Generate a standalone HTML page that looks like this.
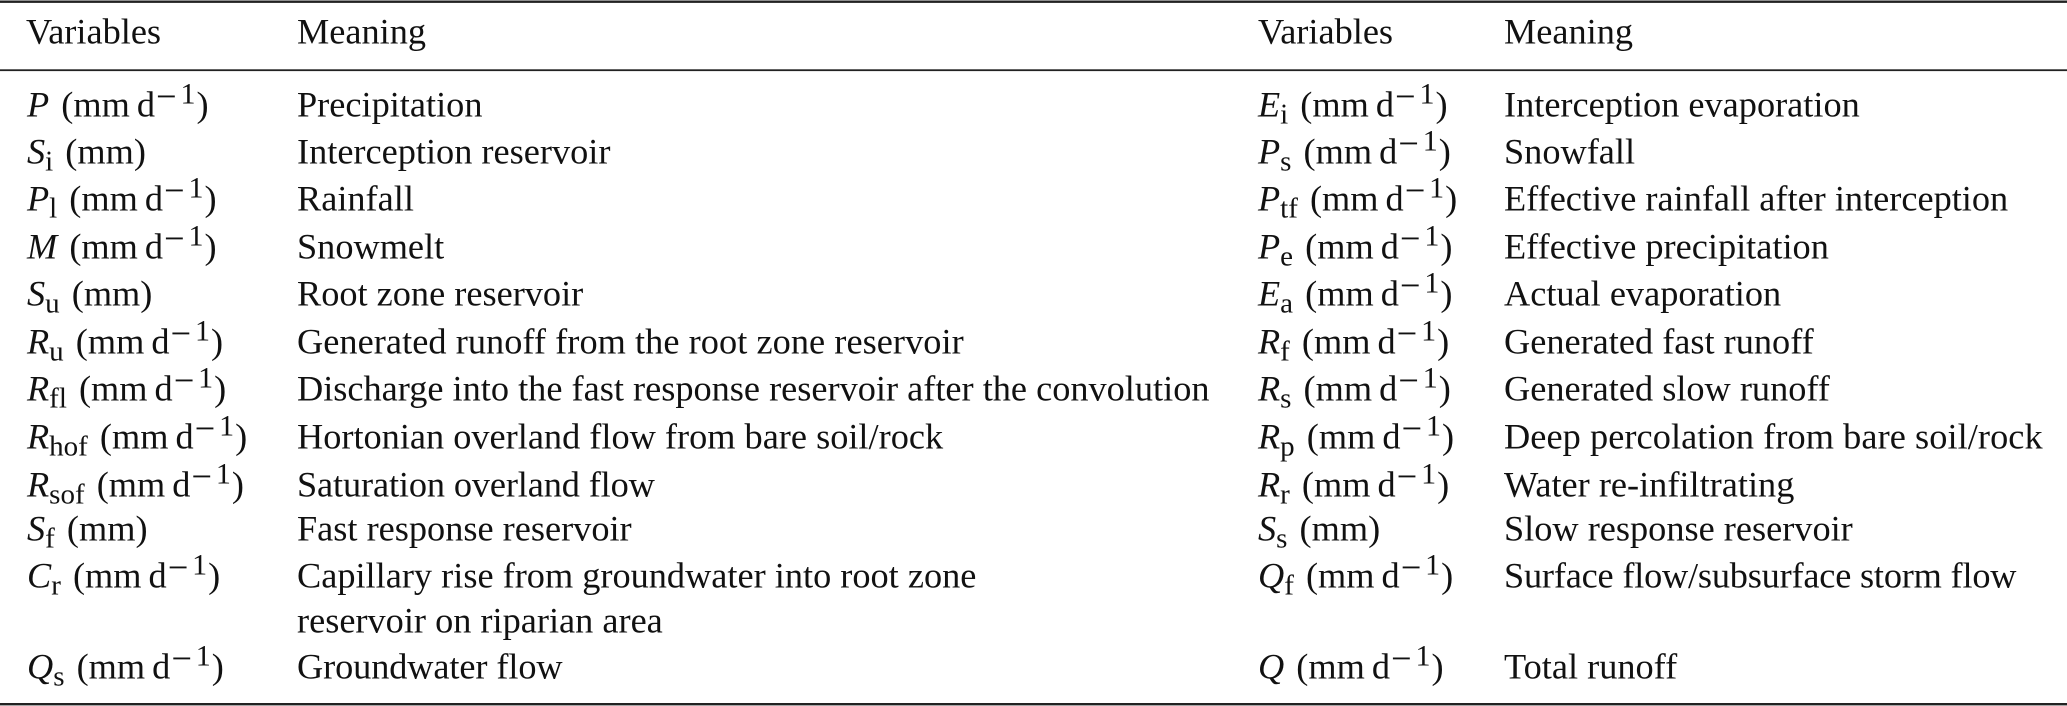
<!DOCTYPE html>
<html><head><meta charset="utf-8"><style>
html,body{margin:0;padding:0;background:#fff;width:2067px;height:706px;overflow:hidden}
svg{display:block}
text{font-family:"Liberation Serif",serif;font-size:36.3px;fill:#111;white-space:pre}
.i{font-style:italic}
.s{font-size:29px}
.u{font-size:30px}
</style></head><body>
<svg width="2067" height="706" viewBox="0 0 2067 706" xmlns="http://www.w3.org/2000/svg">
<rect x="0" y="0.5" width="2067" height="2.4" fill="#222"/>
<rect x="0" y="69.3" width="2067" height="1.8" fill="#222"/>
<rect x="0" y="703" width="2067" height="2.4" fill="#222"/>
<g transform="translate(0,0.7)">
<text x="26" y="43">Variables</text><text x="297" y="43">Meaning</text>
<text x="1258" y="43">Variables</text><text x="1504" y="43">Meaning</text>

<text x="27" y="116"><tspan class="i">P</tspan><tspan dx="3"> (mm</tspan><tspan dx="7">d</tspan><tspan dx="1" dy="-8">−</tspan><tspan class="u" dx="4" dy="-5">1</tspan><tspan dx="1" dy="13">)</tspan></text>
<text x="297" y="116">Precipitation</text>
<text x="27" y="163"><tspan class="i">S</tspan><tspan class="s" dy="7">i</tspan><tspan dx="3" dy="-7"> (mm)</tspan></text>
<text x="297" y="163">Interception reservoir</text>
<text x="27" y="210"><tspan class="i">P</tspan><tspan class="s" dy="7">l</tspan><tspan dx="3" dy="-7"> (mm</tspan><tspan dx="7">d</tspan><tspan dx="1" dy="-8">−</tspan><tspan class="u" dx="4" dy="-5">1</tspan><tspan dx="1" dy="13">)</tspan></text>
<text x="297" y="210">Rainfall</text>
<text x="27" y="258"><tspan class="i">M</tspan><tspan dx="3"> (mm</tspan><tspan dx="7">d</tspan><tspan dx="1" dy="-8">−</tspan><tspan class="u" dx="4" dy="-5">1</tspan><tspan dx="1" dy="13">)</tspan></text>
<text x="297" y="258">Snowmelt</text>
<text x="27" y="305"><tspan class="i">S</tspan><tspan class="s" dy="7">u</tspan><tspan dx="3" dy="-7"> (mm)</tspan></text>
<text x="297" y="305">Root zone reservoir</text>
<text x="27" y="353"><tspan class="i">R</tspan><tspan class="s" dy="7">u</tspan><tspan dx="3" dy="-7"> (mm</tspan><tspan dx="7">d</tspan><tspan dx="1" dy="-8">−</tspan><tspan class="u" dx="4" dy="-5">1</tspan><tspan dx="1" dy="13">)</tspan></text>
<text x="297" y="353" style="letter-spacing:.05px">Generated runoff from the root zone reservoir</text>
<text x="27" y="400"><tspan class="i">R</tspan><tspan class="s" dy="7">fl</tspan><tspan dx="3" dy="-7"> (mm</tspan><tspan dx="7">d</tspan><tspan dx="1" dy="-8">−</tspan><tspan class="u" dx="4" dy="-5">1</tspan><tspan dx="1" dy="13">)</tspan></text>
<text x="297" y="400">Discharge into the fast response reservoir after the convolution</text>
<text x="27" y="448"><tspan class="i">R</tspan><tspan class="s" dy="7">hof</tspan><tspan dx="3" dy="-7"> (mm</tspan><tspan dx="7">d</tspan><tspan dx="1" dy="-8">−</tspan><tspan class="u" dx="4" dy="-5">1</tspan><tspan dx="1" dy="13">)</tspan></text>
<text x="297" y="448">Hortonian overland flow from bare soil/rock</text>
<text x="27" y="496"><tspan class="i">R</tspan><tspan class="s" dy="7">sof</tspan><tspan dx="3" dy="-7"> (mm</tspan><tspan dx="7">d</tspan><tspan dx="1" dy="-8">−</tspan><tspan class="u" dx="4" dy="-5">1</tspan><tspan dx="1" dy="13">)</tspan></text>
<text x="297" y="496" style="letter-spacing:-.13px">Saturation overland flow</text>
<text x="27" y="540"><tspan class="i">S</tspan><tspan class="s" dy="7">f</tspan><tspan dx="3" dy="-7"> (mm)</tspan></text>
<text x="297" y="540">Fast response reservoir</text>
<text x="27" y="587"><tspan class="i">C</tspan><tspan class="s" dy="7">r</tspan><tspan dx="3" dy="-7"> (mm</tspan><tspan dx="7">d</tspan><tspan dx="1" dy="-8">−</tspan><tspan class="u" dx="4" dy="-5">1</tspan><tspan dx="1" dy="13">)</tspan></text>
<text x="297" y="587">Capillary rise from groundwater into root zone</text>
<text x="297" y="632">reservoir on riparian area</text>
<text x="27" y="678"><tspan class="i">Q</tspan><tspan class="s" dy="7">s</tspan><tspan dx="3" dy="-7"> (mm</tspan><tspan dx="7">d</tspan><tspan dx="1" dy="-8">−</tspan><tspan class="u" dx="4" dy="-5">1</tspan><tspan dx="1" dy="13">)</tspan></text>
<text x="297" y="678" style="letter-spacing:-.1px">Groundwater flow</text>

<text x="1258" y="116"><tspan class="i">E</tspan><tspan class="s" dy="7">i</tspan><tspan dx="3" dy="-7"> (mm</tspan><tspan dx="7">d</tspan><tspan dx="1" dy="-8">−</tspan><tspan class="u" dx="4" dy="-5">1</tspan><tspan dx="1" dy="13">)</tspan></text>
<text x="1504" y="116">Interception evaporation</text>
<text x="1258" y="163"><tspan class="i">P</tspan><tspan class="s" dy="7">s</tspan><tspan dx="3" dy="-7"> (mm</tspan><tspan dx="7">d</tspan><tspan dx="1" dy="-8">−</tspan><tspan class="u" dx="4" dy="-5">1</tspan><tspan dx="1" dy="13">)</tspan></text>
<text x="1504" y="163">Snowfall</text>
<text x="1258" y="210"><tspan class="i">P</tspan><tspan class="s" dy="7">tf</tspan><tspan dx="3" dy="-7"> (mm</tspan><tspan dx="7">d</tspan><tspan dx="1" dy="-8">−</tspan><tspan class="u" dx="4" dy="-5">1</tspan><tspan dx="1" dy="13">)</tspan></text>
<text x="1504" y="210">Effective rainfall after interception</text>
<text x="1258" y="258"><tspan class="i">P</tspan><tspan class="s" dy="7">e</tspan><tspan dx="3" dy="-7"> (mm</tspan><tspan dx="7">d</tspan><tspan dx="1" dy="-8">−</tspan><tspan class="u" dx="4" dy="-5">1</tspan><tspan dx="1" dy="13">)</tspan></text>
<text x="1504" y="258">Effective precipitation</text>
<text x="1258" y="305"><tspan class="i">E</tspan><tspan class="s" dy="7">a</tspan><tspan dx="3" dy="-7"> (mm</tspan><tspan dx="7">d</tspan><tspan dx="1" dy="-8">−</tspan><tspan class="u" dx="4" dy="-5">1</tspan><tspan dx="1" dy="13">)</tspan></text>
<text x="1504" y="305">Actual evaporation</text>
<text x="1258" y="353"><tspan class="i">R</tspan><tspan class="s" dy="7">f</tspan><tspan dx="3" dy="-7"> (mm</tspan><tspan dx="7">d</tspan><tspan dx="1" dy="-8">−</tspan><tspan class="u" dx="4" dy="-5">1</tspan><tspan dx="1" dy="13">)</tspan></text>
<text x="1504" y="353">Generated fast runoff</text>
<text x="1258" y="400"><tspan class="i">R</tspan><tspan class="s" dy="7">s</tspan><tspan dx="3" dy="-7"> (mm</tspan><tspan dx="7">d</tspan><tspan dx="1" dy="-8">−</tspan><tspan class="u" dx="4" dy="-5">1</tspan><tspan dx="1" dy="13">)</tspan></text>
<text x="1504" y="400">Generated slow runoff</text>
<text x="1258" y="448"><tspan class="i">R</tspan><tspan class="s" dy="7">p</tspan><tspan dx="3" dy="-7"> (mm</tspan><tspan dx="7">d</tspan><tspan dx="1" dy="-8">−</tspan><tspan class="u" dx="4" dy="-5">1</tspan><tspan dx="1" dy="13">)</tspan></text>
<text x="1504" y="448" style="letter-spacing:.07px">Deep percolation from bare soil/rock</text>
<text x="1258" y="496"><tspan class="i">R</tspan><tspan class="s" dy="7">r</tspan><tspan dx="3" dy="-7"> (mm</tspan><tspan dx="7">d</tspan><tspan dx="1" dy="-8">−</tspan><tspan class="u" dx="4" dy="-5">1</tspan><tspan dx="1" dy="13">)</tspan></text>
<text x="1504" y="496">Water re-infiltrating</text>
<text x="1258" y="540"><tspan class="i">S</tspan><tspan class="s" dy="7">s</tspan><tspan dx="3" dy="-7"> (mm)</tspan></text>
<text x="1504" y="540">Slow response reservoir</text>
<text x="1258" y="587"><tspan class="i">Q</tspan><tspan class="s" dy="7">f</tspan><tspan dx="3" dy="-7"> (mm</tspan><tspan dx="7">d</tspan><tspan dx="1" dy="-8">−</tspan><tspan class="u" dx="4" dy="-5">1</tspan><tspan dx="1" dy="13">)</tspan></text>
<text x="1504" y="587" style="letter-spacing:-.2px">Surface flow/subsurface storm flow</text>
<text x="1258" y="678"><tspan class="i">Q</tspan><tspan dx="3"> (mm</tspan><tspan dx="7">d</tspan><tspan dx="1" dy="-8">−</tspan><tspan class="u" dx="4" dy="-5">1</tspan><tspan dx="1" dy="13">)</tspan></text>
<text x="1504" y="678">Total runoff</text>
</g>
</svg>
</body></html>
